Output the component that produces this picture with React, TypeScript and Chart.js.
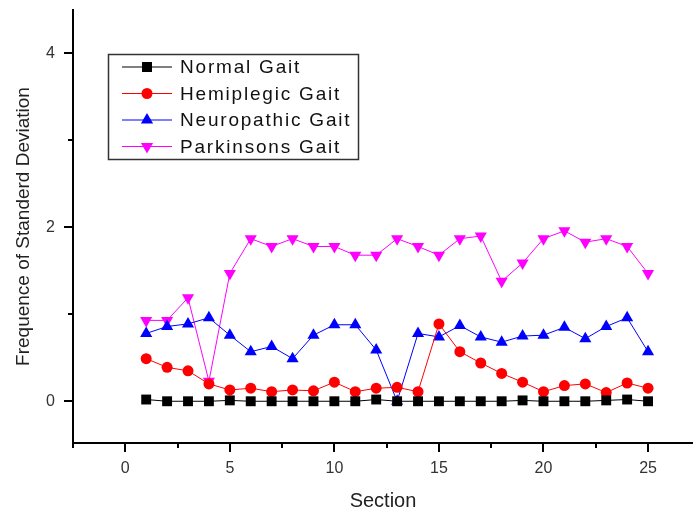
import React, { useEffect, useRef } from 'react';
import { Chart, registerables } from 'chart.js';

Chart.register(...registerables);

const sections = [1, 2, 3, 4, 5, 6, 7, 8, 9, 10, 11, 12, 13, 14, 15, 16, 17, 18, 19, 20, 21, 22, 23, 24, 25];
const normalGait = [0.02, 0, 0, 0, 0.01, 0, 0, 0, 0, 0, 0, 0.02, 0, 0, 0, 0, 0, 0, 0.01, 0, 0, 0, 0.01, 0.02, 0];
const hemiplegicGait = [0.49, 0.39, 0.35, 0.2, 0.13, 0.15, 0.11, 0.13, 0.12, 0.22, 0.11, 0.15, 0.16, 0.11, 0.89, 0.57, 0.44, 0.32, 0.22, 0.11, 0.18, 0.2, 0.1, 0.21, 0.15];
const neuropathicGait = [0.78, 0.86, 0.89, 0.96, 0.76, 0.57, 0.63, 0.49, 0.76, 0.88, 0.88, 0.59, 0.0, 0.78, 0.74, 0.87, 0.74, 0.68, 0.75, 0.76, 0.85, 0.72, 0.86, 0.96, 0.57];
const parkinsonsGait = [0.93, 0.93, 1.19, 0.23, 1.47, 1.87, 1.78, 1.87, 1.78, 1.78, 1.68, 1.68, 1.87, 1.78, 1.68, 1.87, 1.9, 1.38, 1.59, 1.87, 1.96, 1.83, 1.87, 1.78, 1.47];

const seriesNames = ['Normal Gait', 'Hemiplegic Gait', 'Neuropathic Gait', 'Parkinsons Gait'];
const seriesColors = ['#000000', '#ff0000', '#0000ff', '#ff00ff'];
const xTickValues = [0, 5, 10, 15, 20, 25];
const xMinorTicks = [-2.5, 2.5, 7.5, 12.5, 17.5, 22.5];
const yTickValues = [0, 2, 4];
const yMinorTicks = [1, 3];
const xTitle = 'Section';
const yTitle = 'Frequence of Standerd Deviation';

const FONT = "'Liberation Sans', Arial, sans-serif";

function drawMarker(ctx: CanvasRenderingContext2D, kind: number, x: number, y: number, color: string) {
  ctx.save();
  ctx.fillStyle = color;
  ctx.beginPath();
  if (kind === 0) {
    ctx.rect(x - 5, y - 5, 10, 10);
  } else if (kind === 1) {
    ctx.arc(x, y, 5.5, 0, Math.PI * 2);
  } else if (kind === 2) {
    ctx.moveTo(x, y - 7);
    ctx.lineTo(x + 6.1, y + 3.5);
    ctx.lineTo(x - 6.1, y + 3.5);
    ctx.closePath();
  } else {
    ctx.moveTo(x, y + 7);
    ctx.lineTo(x + 6.1, y - 3.5);
    ctx.lineTo(x - 6.1, y - 3.5);
    ctx.closePath();
  }
  ctx.fill();
  ctx.restore();
}

const decorPlugin = {
  id: 'decor',
  afterDraw(chart: any) {
    const ctx: CanvasRenderingContext2D = chart.ctx;
    const xs = chart.scales.x;
    const ys = chart.scales.y;
    const area = chart.chartArea;
    ctx.save();
    ctx.strokeStyle = '#000';
    ctx.lineWidth = 2;
    xTickValues.forEach((v) => {
      const px = Math.round(xs.getPixelForValue(v));
      ctx.beginPath();
      ctx.moveTo(px, area.bottom);
      ctx.lineTo(px, area.bottom + 9);
      ctx.stroke();
    });
    xMinorTicks.forEach((v) => {
      const px = Math.round(xs.getPixelForValue(v));
      ctx.beginPath();
      ctx.moveTo(px, area.bottom);
      ctx.lineTo(px, area.bottom + 5);
      ctx.stroke();
    });
    yTickValues.forEach((v) => {
      const py = Math.round(ys.getPixelForValue(v));
      ctx.beginPath();
      ctx.moveTo(area.left, py);
      ctx.lineTo(area.left - 9, py);
      ctx.stroke();
    });
    yMinorTicks.forEach((v) => {
      const py = Math.round(ys.getPixelForValue(v));
      ctx.beginPath();
      ctx.moveTo(area.left, py);
      ctx.lineTo(area.left - 5, py);
      ctx.stroke();
    });
    // legend
    ctx.strokeStyle = '#333';
    ctx.lineWidth = 1.5;
    ctx.strokeRect(108.5, 54.5, 250, 105);
    const rows = [67, 93.5, 120, 146.5];
    seriesNames.forEach((name, i) => {
      const y = rows[i];
      ctx.strokeStyle = seriesColors[i];
      ctx.lineWidth = 1;
      ctx.beginPath();
      ctx.moveTo(122, y);
      ctx.lineTo(172, y);
      ctx.stroke();
      drawMarker(ctx, i, 147, y, seriesColors[i]);
      ctx.fillStyle = '#111';
      ctx.font = `19px ${FONT}`;
      (ctx as any).letterSpacing = '1.8px';
      ctx.textBaseline = 'middle';
      ctx.textAlign = 'left';
      ctx.fillText(name, 180, y + 1);
      (ctx as any).letterSpacing = '0px';
    });
    ctx.restore();
  },
};

export default function App() {
  const ref = useRef<HTMLCanvasElement | null>(null);
  useEffect(() => {
    if (!ref.current) return;
    const all = [normalGait, hemiplegicGait, neuropathicGait, parkinsonsGait];
    const styles: any[] = [
      { pointStyle: 'rect', pointRadius: 7, rotation: 0 },
      { pointStyle: 'circle', pointRadius: 5.5, rotation: 0 },
      { pointStyle: 'triangle', pointRadius: 7, rotation: 0 },
      { pointStyle: 'triangle', pointRadius: 7, rotation: 180 },
    ];
    const datasets = all.map((vals, i) => ({
      label: seriesNames[i],
      data: sections.map((s, j) => ({ x: s, y: vals[j] })),
      borderColor: seriesColors[i],
      backgroundColor: seriesColors[i],
      pointBackgroundColor: seriesColors[i],
      pointBorderColor: seriesColors[i],
      pointBorderWidth: 0,
      borderWidth: 1,
      pointStyle: styles[i].pointStyle,
      pointRadius: styles[i].pointRadius,
      pointRotation: styles[i].rotation,
      tension: 0,
    }));
    const chart = new Chart(ref.current, {
      type: 'line',
      data: { datasets },
      plugins: [decorPlugin],
      options: {
        animation: false,
        responsive: false,
        devicePixelRatio: 1,
        layout: { autoPadding: false, padding: { left: 0, right: 0, top: 10, bottom: 0 } },
        plugins: { legend: { display: false }, tooltip: { enabled: false } },
        scales: {
          x: {
            type: 'linear',
            min: -2.5,
            max: 27.15,
            afterBuildTicks: (axis: any) => {
              axis.ticks = xTickValues.map((v) => ({ value: v }));
            },
            afterFit: (axis: any) => {
              axis.height = 66;
              axis.paddingLeft = 0;
              axis.paddingRight = 0;
            },
            grid: { display: false },
            border: { display: true, color: '#000', width: 2 },
            ticks: {
              color: '#333',
              font: { size: 16, family: FONT },
              padding: 8,
              maxRotation: 0,
              autoSkip: false,
            },
            title: {
              display: true,
              text: xTitle,
              color: '#222',
              font: { size: 20, family: FONT },
              padding: { top: 0, bottom: -4 },
            },
          },
          y: {
            type: 'linear',
            min: -0.48,
            max: 4.5,
            afterBuildTicks: (axis: any) => {
              axis.ticks = yTickValues.map((v) => ({ value: v }));
            },
            afterFit: (axis: any) => {
              axis.width = 73;
              axis.paddingTop = 0;
              axis.paddingBottom = 0;
            },
            grid: { display: false },
            border: { display: true, color: '#000', width: 2 },
            ticks: {
              color: '#333',
              font: { size: 16, family: FONT },
              padding: 10,
            },
            title: {
              display: true,
              text: yTitle,
              color: '#222',
              font: { size: 19, family: FONT },
              padding: { top: 12, bottom: 0 },
            },
          },
        },
      },
    });
    return () => chart.destroy();
  }, []);
  return (
    <div style={{ position: 'absolute', left: 0, top: 0, width: 693, height: 509, background: '#fff' }}>
      <canvas ref={ref} width={693} height={509} style={{ width: 693, height: 509, display: 'block' }} />
    </div>
  );
}
